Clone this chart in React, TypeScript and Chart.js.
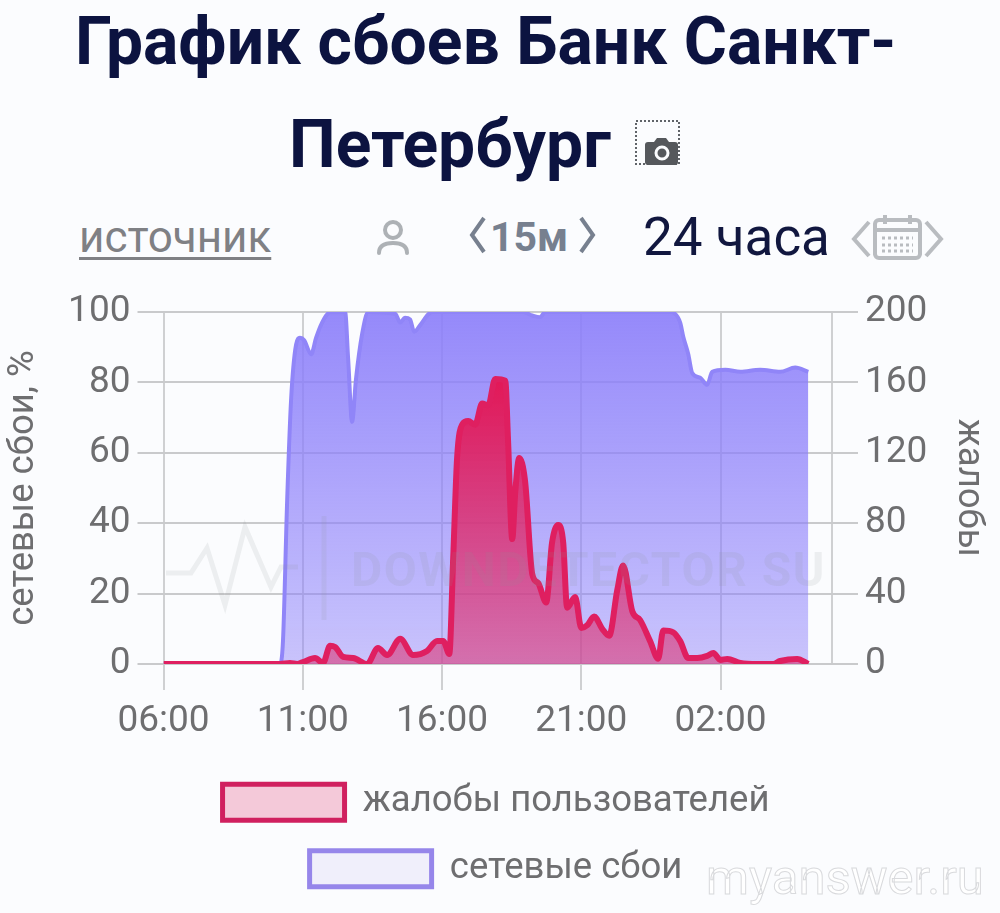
import React, { useEffect, useRef } from "react";
import { Chart, registerables } from "chart.js";
Chart.register(...registerables);

const tickLabels = ["06:00", "11:00", "16:00", "21:00", "02:00"];
const seriesNames = ["жалобы пользователей", "сетевые сбои"];

const networkHours = [0, 4.18, 4.29, 4.44, 4.58, 4.76, 4.9, 5.05, 5.3, 5.48, 5.69, 5.98, 6.52, 6.63, 6.77, 6.91, 7.13, 7.35, 8.32, 8.5, 8.67, 8.85, 9.0, 9.21, 9.5, 9.64, 12.91, 13.24, 13.52, 13.7, 18.19, 18.55, 18.66, 18.84, 18.98, 19.27, 19.52, 19.7, 20.17, 20.71, 21.42, 22.14, 22.68, 23.15];
const networkValues = [0, 0, 6.6, 46.6, 75, 90.7, 92.7, 92, 88, 92.7, 96.9, 99.9, 100, 86.6, 68.8, 80.9, 93.7, 100, 99.5, 97, 98.4, 97.9, 94.4, 96.2, 99.3, 100, 100, 99, 98.5, 100, 100, 97, 93, 88, 82.7, 81.3, 79.3, 83, 83.6, 83, 83.6, 83, 84.2, 83];

const complaintHours = [0, 4.18, 4.54, 4.8, 5.01, 5.44, 5.73, 5.98, 6.16, 6.45, 6.81, 7.31, 7.7, 8.03, 8.5, 8.96, 9.46, 9.82, 10.04, 10.26, 10.4, 10.54, 10.72, 10.94, 11.19, 11.44, 11.66, 11.91, 12.27, 12.37, 12.52, 12.63, 12.77, 12.98, 13.24, 13.45, 13.74, 13.95, 14.17, 14.35, 14.49, 14.78, 15.0, 15.21, 15.46, 15.75, 16.0, 16.29, 16.5, 16.83, 17.11, 17.47, 17.76, 17.94, 18.3, 18.55, 18.84, 19.16, 19.52, 19.74, 19.99, 20.24, 20.71, 21.32, 21.89, 22.14, 22.75, 23.15];
const complaintValues = [0, 0, 0.6, 0, 1.1, 3.4, 0.6, 10.3, 9.7, 4, 3.4, 0, 9.1, 5.1, 14.3, 5.1, 7.4, 13.1, 13.1, 5.7, 60, 117, 136, 138, 136, 148, 147, 162, 161, 127, 71, 98, 117, 104, 51, 46, 35, 69, 79, 69, 32, 38, 20.5, 22, 27, 20, 16, 42, 56, 30, 25, 13, 3, 19, 18, 13, 3.4, 3.4, 4.6, 6.3, 2.3, 2.9, 0.6, 0, 0, 1.7, 2.9, 0];

const pair = (xs: number[], ys: number[]) => xs.map((x, i) => ({ x, y: ys[i] }));
const GREY = "#6e6e70";
const FONT = "Roboto, sans-serif";

const gradient = (stops: [number, string][]) => (c: any) => {
  const a = c.chart.chartArea;
  if (!a) return stops[0][1];
  const g = c.chart.ctx.createLinearGradient(0, a.top, 0, a.bottom);
  stops.forEach(([o, col]) => g.addColorStop(o, col));
  return g;
};

export default function App() {
  const ref = useRef<HTMLCanvasElement>(null);
  useEffect(() => {
    document.body.style.margin = "0";
    const chart = new Chart(ref.current!, {
      type: "line",
      data: {
        datasets: [
          {
            label: seriesNames[0],
            data: pair(complaintHours, complaintValues),
            yAxisID: "y1",
            borderColor: "#df1f60",
            borderWidth: 6,
            fill: "origin",
            backgroundColor: gradient([[0.2, "rgba(226,25,88,1)"], [1, "rgba(218,60,125,0.62)"]]),
            pointRadius: 0,
            cubicInterpolationMode: "monotone",
            order: 1,
          },
          {
            label: seriesNames[1],
            data: pair(networkHours, networkValues),
            yAxisID: "y",
            borderColor: "#9085f8",
            borderWidth: 4,
            fill: "origin",
            backgroundColor: gradient([[0, "rgba(140,127,250,0.92)"], [1, "rgba(140,127,250,0.45)"]]),
            pointRadius: 0,
            cubicInterpolationMode: "monotone",
            order: 2,
          },
        ],
      },
      options: {
        animation: false,
        responsive: false,
        layout: { padding: { top: 312, left: 0, right: 0, bottom: 16 } },
        plugins: {
          tooltip: { enabled: false },
          legend: {
            position: "bottom",
            labels: {
              boxWidth: 122,
              boxHeight: 36,
              padding: 30,
              color: GREY,
              font: { family: FONT, size: 36.5, lineHeight: 1 },
              generateLabels: () => [
                { text: seriesNames[0], fillStyle: "#f4c9d9", strokeStyle: "#d0205f", lineWidth: 5, fontColor: GREY, datasetIndex: 0 },
                { text: seriesNames[1], fillStyle: "#f0effb", strokeStyle: "#9686ea", lineWidth: 5, fontColor: GREY, datasetIndex: 1 },
              ],
            },
          },
        },
        scales: {
          x: {
            type: "linear",
            min: 0,
            max: 24,
            afterFit: (s: any) => { s.height = 90; },
            grid: {
              color: "#cfd0d2",
              lineWidth: 2,
              tickLength: 26,
              tickColor: (c: any) => (c.tick && c.tick.value === 24 ? "rgba(0,0,0,0)" : "#cfd0d2"),
            },
            border: { display: false },
            ticks: {
              stepSize: 5,
              autoSkip: false,
              maxRotation: 0,
              color: GREY,
              padding: 10,
              font: { family: FONT, size: 37 },
              callback: (v: any) => tickLabels[Number(v) / 5] ?? "",
            },
          },
          y: {
            position: "left",
            min: 0,
            max: 100,
            afterFit: (s: any) => { s.width = 157.5; },
            grid: { color: "#c9cacc", lineWidth: 2, tickLength: 26, drawTicks: true },
            border: { display: false },
            ticks: { stepSize: 20, color: GREY, padding: 7, font: { family: FONT, size: 37 } },
            title: { display: true, text: "сетевые сбои, %", color: GREY, font: { family: FONT, size: 36.5, lineHeight: 1 }, padding: { top: 0, bottom: 0 } },
          },
          y1: {
            position: "right",
            min: 0,
            max: 200,
            afterFit: (s: any) => { s.width = 154; },
            grid: { color: "#c9cacc", lineWidth: 2, tickLength: 26, drawOnChartArea: false },
            border: { display: false },
            ticks: { stepSize: 40, color: GREY, padding: 7, font: { family: FONT, size: 37 } },
            title: { display: true, text: "жалобы", color: GREY, font: { family: FONT, size: 36.5, lineHeight: 1 }, padding: { top: 0, bottom: 0 } },
          },
        },
      },
    } as any);
    return () => chart.destroy();
  }, []);

  const abs = (left: number, top: number, extra: any): any => ({ position: "absolute", left, top, whiteSpace: "nowrap", fontFamily: FONT, ...extra });
  return (
    <div style={{ position: "relative", width: 1000, height: 913, overflow: "hidden", background: "#fbfcfe" }}>
      <div style={abs(75, 0, { fontSize: 66, fontWeight: 700, color: "#0c1340", lineHeight: "84px" })}>График сбоев Банк Санкт-</div>
      <div style={abs(289, 103, { fontSize: 66, fontWeight: 700, color: "#0c1340", lineHeight: "84px" })}>Петербург</div>
      <div style={abs(79, 212, { fontSize: 44, color: "#7f8084", lineHeight: "50px", textDecoration: "underline", textDecorationThickness: 3, textUnderlineOffset: 5 })}>источник</div>
      <div style={abs(490, 212, { fontSize: 41, fontWeight: 700, color: "#77808f", lineHeight: "50px" })}>15м</div>
      <div style={abs(643, 208, { fontSize: 53, color: "#11173f", lineHeight: "58px" })}>24 часа</div>
      <canvas ref={ref} width={980} height={913} style={{ position: "absolute", left: 6, top: 0 }} />
      <svg width={1000} height={913} style={{ position: "absolute", left: 0, top: 0, pointerEvents: "none" }}>
        <g fill="none" stroke="#5f6368" strokeWidth="2" strokeDasharray="2 2"><rect x="636" y="121" width="43" height="43" /></g>
        <path d="M649 142h6l3-4h9l3 4h6q3 0 3 3v17q0 3-3 3h-27q-3 0-3-3v-17q0-3 3-3z" fill="#55585c" transform="translate(-1 0)" />
        <circle cx="662" cy="153" r="6" fill="none" stroke="#fbfcfe" strokeWidth="3" />
        <g fill="none" stroke="#adb1b5" strokeWidth="4" strokeLinecap="round">
          <circle cx="393" cy="230" r="8" />
          <path d="M379 253q0-10 14-10t14 10" />
        </g>
        <g fill="none" stroke="#77808f" strokeWidth="4">
          <path d="M484 218l-12 17 12 17" />
          <path d="M581 218l12 17-12 17" />
        </g>
        <g fill="none" stroke="#b9bcc0" strokeWidth="4">
          <path d="M869 222l-15 17 15 17" />
          <path d="M926 222l15 17-15 17" />
          <rect x="875" y="220" width="45" height="38" rx="4" />
          <path d="M875 230h45M885 215v9M910 215v9" />
          <path d="M882 238h31M882 245h31M882 251h31" strokeDasharray="3 3" strokeWidth="3" />
        </g>
        <g fill="none" stroke="#8c8f96" strokeOpacity="0.13" strokeWidth="5">
          <path d="M166 573h25l16-25 18 57 20-78 26 60 10-20h17" />
          <path d="M324 516v104" />
        </g>
        <text x="351" y="586" fill="#8c8f96" fillOpacity="0.13" style={{ fontFamily: FONT, fontSize: 48, fontWeight: 700, letterSpacing: 1.5 }}>DOWNDETECTOR SU</text>
        <text x="706" y="894" fill="#ffffff" stroke="#d9dadd" strokeWidth="1" style={{ fontFamily: FONT, fontSize: 49 }}>myanswer.ru</text>
      </svg>
    </div>
  );
}
